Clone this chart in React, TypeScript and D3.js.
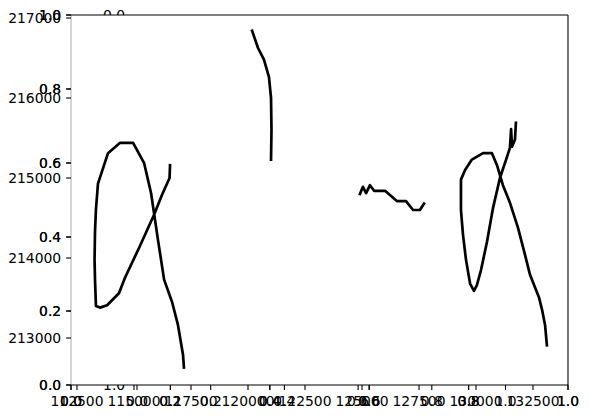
import * as d3 from 'd3';

// tick values
const unitTicks = [0, 0.2, 0.4, 0.6, 0.8, 1.0];
const xTicksA = [112500, 115000, 117500, 120000, 122500, 125000, 127500, 130000, 132500];
const yTicksA = [213000, 214000, 215000, 216000, 217000];

// track points (x, y)
const trackX1 = [116580, 116560, 116230, 115880, 115260, 114600, 114340, 113820, 113510, 113330, 113290, 113270, 113290, 113330, 113420, 113860, 114390, 114960, 115440, 115750, 116050, 116320, 116670, 116930, 117060, 117150, 117190];
const trackY1 = [215160, 215000, 214790, 214540, 214150, 213750, 213560, 213410, 213380, 213400, 213730, 213980, 214330, 214600, 214930, 215310, 215440, 215440, 215190, 214810, 214230, 213730, 213450, 213160, 212940, 212790, 212630];

const trackX2 = [120180, 120440, 120700, 120920, 121010, 121030, 121010];
const trackY2 = [216840, 216625, 216480, 216260, 216000, 215600, 215230];

const trackX3 = [124910, 125040, 125180, 125350, 125530, 126010, 126540, 126930, 127240, 127540, 127720];
const trackY3 = [214800, 214890, 214810, 214910, 214840, 214840, 214710, 214710, 214600, 214600, 214680];

const trackX4 = [131750, 131710, 131580, 131540, 131490, 131320, 131050, 130750, 130480, 130220, 130040, 129910, 129740, 129560, 129430, 129340, 129340, 129520, 129820, 130310, 130700, 130920, 131180, 131490, 131840, 132150, 132370, 132590, 132760, 132900, 133030, 133110];
const trackY4 = [215690, 215480, 215390, 215610, 215380, 215230, 215000, 214630, 214200, 213850, 213660, 213590, 213680, 213980, 214290, 214600, 214980, 215100, 215230, 215310, 215310, 215160, 214910, 214690, 214380, 214040, 213790, 213630, 213510, 213350, 213160, 212910];

const tracks = [
  [trackX1, trackY1],
  [trackX2, trackY2],
  [trackX3, trackY3],
  [trackX4, trackY4],
];

const W = 589;
const H = 418;
const left = 71;
const right = 568;
const top = 15;
const bottom = 385;
const FONT = 'DejaVu Sans, sans-serif';
const FS = 13.9;

export default function App() {
  const xUnit = d3.scaleLinear().domain([0, 1]).range([left, right]);
  const yUnit = d3.scaleLinear().domain([0, 1]).range([bottom, top]);
  const xUnitB = d3.scaleLinear().domain([0, 1]).range([137, 505.5]);
  const yUnitB = d3.scaleLinear().domain([0, 1]).range([top, bottom]);
  const x = d3.scaleLinear().domain([120000, 122500]).range([248, 305]);
  const y = d3.scaleLinear().domain([213000, 214000]).range([338, 258]);

  const line = d3.line<[number, number]>().x(d => x(d[0])).y(d => y(d[1]));

  const tickLen = 4.9;
  const pad = 4.9;

  const xLabel = (px: number, txt: string, key: string) => (
    <g key={key}>
      <line x1={px} x2={px} y1={bottom} y2={bottom + tickLen} stroke="#000" strokeWidth={1.1} />
      <text x={px} y={405.5} textAnchor="middle">{txt}</text>
    </g>
  );
  const yLabel = (py: number, txt: string, key: string) => (
    <g key={key}>
      <line x1={left - tickLen} x2={left} y1={py} y2={py} stroke="#000" strokeWidth={1.1} />
      <text x={left - tickLen - pad} y={py + 5} textAnchor="end">{txt}</text>
    </g>
  );

  return (
    <svg width={W} height={H} style={{ position: 'absolute', left: 0, top: 0, background: '#fff' }}
      fontFamily={FONT} fontSize={FS} fill="#000">
      {/* hidden axes' y labels, mostly covered by the main frame */}
      {[0, 1].map(v => (
        <text key={'yb' + v} x={xUnitB(0) - tickLen - pad - 2} y={yUnitB(v) + 5} textAnchor="end">
          {v.toFixed(1)}
        </text>
      ))}
      <rect x={left} y={top} width={right - left} height={bottom - top} fill="#fff" />

      {tracks.map(([xs, ys], i) => (
        <path key={'t' + i}
          d={line(xs.map((v, j) => [v, ys[j]] as [number, number])) || ''}
          fill="none" stroke="#000" strokeWidth={2.7} strokeLinejoin="round" strokeLinecap="square" />
      ))}

      {/* spines */}
      <line x1={left} x2={left} y1={top} y2={bottom} stroke="#b3b3b3" strokeWidth={1.1} />
      <line x1={left} x2={right} y1={top} y2={top} stroke="#000" strokeWidth={1.1} />
      <line x1={right} x2={right} y1={top} y2={bottom} stroke="#000" strokeWidth={1.1} />
      <line x1={left} x2={right} y1={bottom} y2={bottom} stroke="#000" strokeWidth={1.1} />

      {yTicksA.map(v => yLabel(y(v), String(v), 'ya' + v))}
      {unitTicks.map(v => yLabel(yUnit(v), v.toFixed(1), 'yu' + v))}
      {unitTicks.map(v => yLabel(yUnit(v), v.toFixed(1), 'yu2' + v))}

      {xTicksA.map(v => xLabel(x(v), String(v), 'xa' + v))}
      {unitTicks.map(v => xLabel(xUnitB(v), v.toFixed(1), 'xb' + v))}
      {unitTicks.map(v => xLabel(xUnit(v), v.toFixed(1), 'xu' + v))}
      {unitTicks.map(v => xLabel(xUnit(v), v.toFixed(1), 'xu2' + v))}
    </svg>
  );
}
